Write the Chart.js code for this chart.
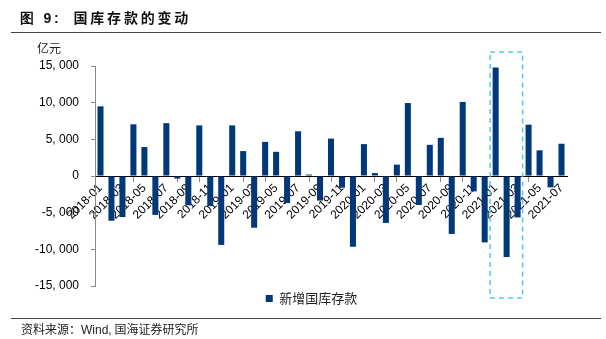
<!DOCTYPE html>
<html>
<head>
<meta charset="utf-8">
<script src="https://cdn.jsdelivr.net/npm/chart.js@4/dist/chart.umd.min.js"></script>
<style>
  html, body { margin: 0; padding: 0; background: #fff; }
  #wrap { position: relative; width: 606px; height: 339px; overflow: hidden; }
  #myChart { position: absolute; left: 0; top: 0; }
  .title {
    position: absolute; left: 20px; top: 7px;
    font: bold 14px "Noto Sans CJK SC", sans-serif; letter-spacing: 2.8px; color: #111;
  }
  .title b { font-family: "Liberation Sans", Arial, sans-serif; }
  .rule { position: absolute; left: 11px; width: 590px; height: 0; border-top: 1.5px solid #444; }
  .unit { position: absolute; left: 37px; top: 39px; font: 12px "Noto Sans CJK SC", sans-serif; color: #222; }
  .source { position: absolute; left: 21px; top: 320px; font: 12px "Noto Sans CJK SC", sans-serif; color: #222; }
  .source span { font-family: "Liberation Sans", Arial, sans-serif; }
</style>
</head>
<body>
<div id="wrap">
  <canvas id="myChart" width="606" height="339"></canvas>
  <div class="title"><b>图 9:</b>&nbsp; 国库存款的变动</div>
  <div class="rule" style="top:32px"></div>
  <div class="unit">亿元</div>
  <div class="rule" style="top:318px"></div>
  <div class="source">资料来源：<span>Wind,</span> 国海证券研究所</div>
</div>
<script>
// monthly change in treasury deposits, 100 million yuan
const months = [
  "2018-01","2018-02","2018-03","2018-04","2018-05","2018-06","2018-07","2018-08","2018-09","2018-10","2018-11","2018-12",
  "2019-01","2019-02","2019-03","2019-04","2019-05","2019-06","2019-07","2019-08","2019-09","2019-10","2019-11","2019-12",
  "2020-01","2020-02","2020-03","2020-04","2020-05","2020-06","2020-07","2020-08","2020-09","2020-10","2020-11","2020-12",
  "2021-01","2021-02","2021-03","2021-04","2021-05","2021-06","2021-07"
];
const depositChange = [
  9500, -6100, -5600, 7050, 3950, -5300, 7200, -350, -4000, 6900, -4100, -9400,
  6900, 3400, -7050, 4650, 3300, -3700, 6100, 200, -3350, 5100, -1600, -9650,
  4350, 400, -6400, 1550, 9950, -3950, 4250, 5200, -7900, 10100, -2100, -9050,
  14800, -11050, -5650, 7000, 3500, -1550, 4400
];
const yTicks = [-15000, -10000, -5000, 0, 5000, 10000, 15000];
// months picked out by the dashed frame
const frameFrom = "2021-01";
const frameTo = "2021-03";

const barColor = "#00387a";
const numFont = { family: "'Liberation Sans', Arial, sans-serif", size: 12 };

function fmt(v) {
  const s = Math.abs(v).toString().replace(/\B(?=(\d{3})+(?!\d))/g, ", ");
  return (v < 0 ? "-" : "") + s;
}

// dashed highlight frame around a run of months
const framePlugin = {
  id: "frame",
  afterLayout(chart) {
    // nudge the legend row a little to the right
    chart.legend.left += 26;
  },
  afterDatasetsDraw(chart) {
    const x = chart.scales.x, y = chart.scales.y;
    const bars = chart.getDatasetMeta(0).data;
    const i0 = months.indexOf(frameFrom), i1 = months.indexOf(frameTo);
    const half = bars[i0].width / 2;
    const left = x.getPixelForValue(i0) - half - 2.5;
    const right = x.getPixelForValue(i1) + half + 2;
    const top = y.top - 14, bottom = y.bottom + 12;
    const ctx = chart.ctx;
    ctx.save();
    ctx.strokeStyle = "#55c6f0";
    ctx.lineWidth = 1.5;
    ctx.setLineDash([5, 4]);
    ctx.strokeRect(left, top, right - left, bottom - top);
    ctx.restore();
  }
};

new Chart("myChart", {
  type: "bar",
  data: {
    labels: months,
    datasets: [{
      label: "新增国库存款",
      data: depositChange,
      backgroundColor: barColor,
      borderWidth: 0,
      barPercentage: 0.55,
      categoryPercentage: 1
    }]
  },
  options: {
    responsive: false,
    animation: false,
    layout: { padding: { left: 30, right: 39, top: 66, bottom: 24 } },
    plugins: {
      tooltip: { enabled: false },
      legend: {
        position: "bottom",
        labels: {
          boxWidth: 7, boxHeight: 7, padding: 6,
          color: "#222",
          font: { family: "'Noto Sans CJK SC', sans-serif", size: 13 }
        }
      }
    },
    scales: {
      x: {
        position: { y: 0 },
        grid: { drawOnChartArea: false, offset: true, tickLength: 5, color: "#888" },
        border: { color: "#000", width: 1 },
        ticks: {
          autoSkip: false, maxRotation: 45, minRotation: 45, padding: 0,
          color: "#000", font: numFont,
          callback: (v, i) => (i % 2 === 0 ? months[i] : null)
        }
      },
      y: {
        min: -15000, max: 15000,
        afterFit(scale) { scale.width = 65; },
        afterBuildTicks(scale) { scale.ticks = yTicks.map(v => ({ value: v })); },
        grid: { drawOnChartArea: false, tickLength: 4, color: "#888" },
        border: { color: "#888", width: 1 },
        ticks: { padding: 12, color: "#000", font: numFont, callback: v => fmt(v) }
      }
    }
  },
  plugins: [framePlugin]
});
</script>
</body>
</html>
